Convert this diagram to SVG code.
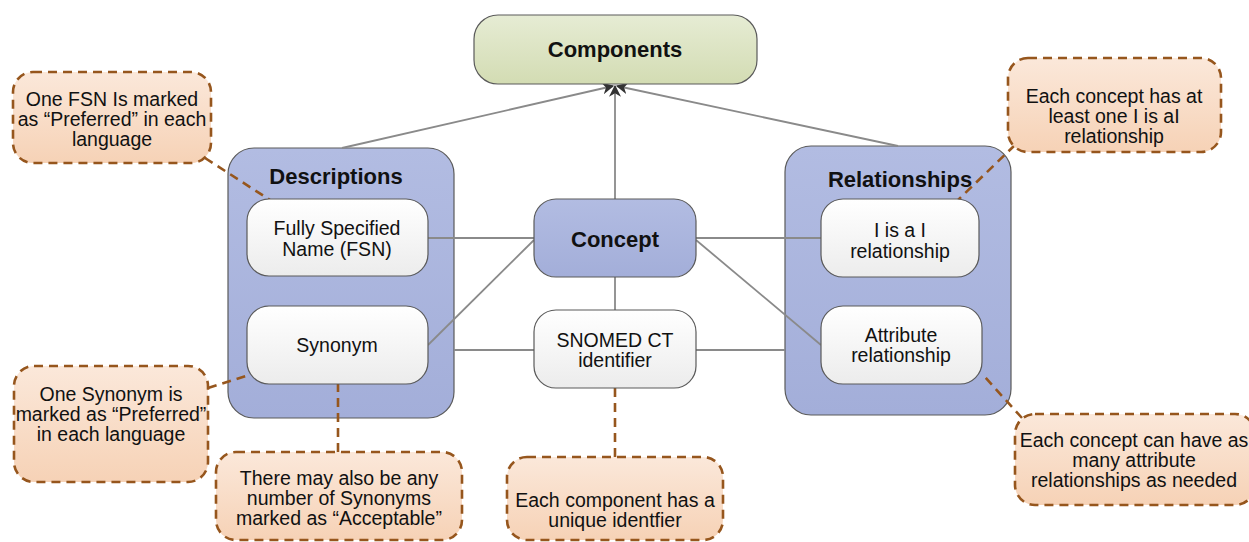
<svg xmlns="http://www.w3.org/2000/svg" width="1249" height="542" viewBox="0 0 1249 542">
<defs>
<linearGradient id="gGreen" x1="0" y1="0" x2="0" y2="1"><stop offset="0" stop-color="#e6ecd4"/><stop offset="1" stop-color="#d3dcb3"/></linearGradient>
<linearGradient id="gBlue" x1="0" y1="0" x2="0" y2="1"><stop offset="0" stop-color="#b2bce2"/><stop offset="1" stop-color="#a3aed9"/></linearGradient>
<linearGradient id="gWhite" x1="0" y1="0" x2="0" y2="1"><stop offset="0" stop-color="#ffffff"/><stop offset="1" stop-color="#ececec"/></linearGradient>
<linearGradient id="gPeach" x1="0" y1="0" x2="0" y2="1"><stop offset="0" stop-color="#fbe8da"/><stop offset="1" stop-color="#f6d2b6"/></linearGradient>
<marker id="arr" viewBox="0 0 10 10" refX="9" refY="5" markerWidth="12" markerHeight="12" orient="auto" markerUnits="userSpaceOnUse"><path d="M0,0 L10,5 L0,10 L3,5 Z" fill="#333"/></marker>
</defs>
<style>
.cont{fill:url(#gBlue);stroke:#5a5a5a;stroke-width:1.2}
.node{fill:url(#gWhite);stroke:#5a5a5a;stroke-width:1.2}
.blue{fill:url(#gBlue);stroke:#5a5a5a;stroke-width:1.2}
.green{fill:url(#gGreen);stroke:#5a5a5a;stroke-width:1.2}
.call{fill:url(#gPeach);stroke:#96561d;stroke-width:2.6;stroke-dasharray:9,6}
.tail{fill:none;stroke:#96561d;stroke-width:2.6;stroke-dasharray:9,6}
.conn line{stroke:#8a8a8a;stroke-width:1.8}
text{font-family:"Liberation Sans",Arial,Helvetica,sans-serif;fill:#111;text-anchor:middle}
.b{font-weight:bold;font-size:22px}
.n{font-size:19.5px}
.c{font-size:19.5px}
</style>
<g id="descriptions"><rect class="cont" x="228" y="148" width="226" height="270" rx="26"/><text class="b" x="336" y="184">Descriptions</text></g>
<g id="relationships"><rect class="cont" x="785" y="146" width="226" height="269" rx="26"/><text class="b" x="900" y="187">Relationships</text></g>
<g id="callout-tails">
<line class="tail" x1="205" y1="158" x2="270" y2="200"/>
<line class="tail" x1="1015" y1="145" x2="958" y2="200"/>
<line class="tail" x1="208" y1="388" x2="252" y2="374"/>
<line class="tail" x1="338" y1="452" x2="338" y2="384"/>
<line class="tail" x1="615" y1="457" x2="615" y2="388"/>
<line class="tail" x1="1022" y1="418" x2="984" y2="376"/>
</g>
<g class="conn" id="connectors">
<line x1="342" y1="148" x2="613" y2="86" marker-end="url(#arr)"/>
<line x1="615" y1="199" x2="615" y2="86" marker-end="url(#arr)"/>
<line x1="898" y1="146" x2="617" y2="86" marker-end="url(#arr)"/>
<line x1="428" y1="238" x2="534" y2="238"/>
<line x1="428" y1="345" x2="534" y2="240"/>
<line x1="454" y1="350" x2="534" y2="350"/>
<line x1="615" y1="277" x2="615" y2="310"/>
<line x1="696" y1="238" x2="821" y2="238"/>
<line x1="696" y1="240" x2="821" y2="345"/>
<line x1="696" y1="350" x2="785" y2="350"/>
</g>
<g id="components"><rect class="green" x="474" y="15" width="283" height="69" rx="24"/><text class="b" x="615" y="57">Components</text></g>
<g id="fsn"><rect class="node" x="247" y="199" width="181" height="77" rx="22"/><text class="n" x="337" y="235">Fully Specified</text><text class="n" x="337" y="256">Name (FSN)</text></g>
<g id="synonym"><rect class="node" x="247" y="306" width="181" height="78" rx="22"/><text class="n" x="337" y="352">Synonym</text></g>
<g id="isa"><rect class="node" x="821" y="199" width="158" height="78" rx="22"/><text class="n" x="900" y="237">I is a I</text><text class="n" x="900" y="258">relationship</text></g>
<g id="attribute"><rect class="node" x="821" y="306" width="161" height="78" rx="22"/><text class="n" x="901" y="342">Attribute</text><text class="n" x="901" y="362">relationship</text></g>
<g id="concept"><rect class="blue" x="534" y="199" width="162" height="78" rx="22"/><text class="b" x="615" y="247">Concept</text></g>
<g id="snomed"><rect class="node" x="534" y="310" width="162" height="78" rx="22"/><text class="n" x="615" y="347">SNOMED CT</text><text class="n" x="615" y="367">identifier</text></g>
<g id="note-fsn"><rect class="call" x="13" y="72" width="198" height="91" rx="20"/><text class="c" x="112" y="106">One FSN Is marked</text><text class="c" x="112" y="126">as “Preferred” in each</text><text class="c" x="112" y="146">language</text></g>
<g id="note-isa"><rect class="call" x="1008" y="58" width="213" height="94" rx="20"/><text class="c" x="1114" y="103">Each concept has at</text><text class="c" x="1114" y="123">least one I is aI</text><text class="c" x="1114" y="143">relationship</text></g>
<g id="note-synonym"><rect class="call" x="14" y="366" width="194" height="116" rx="20"/><text class="c" x="111" y="401">One Synonym is</text><text class="c" x="111" y="421">marked as “Preferred”</text><text class="c" x="111" y="441">in each language</text></g>
<g id="note-acceptable"><rect class="call" x="216" y="452" width="246" height="88" rx="20"/><text class="c" x="339" y="485">There may also be any</text><text class="c" x="339" y="505">number of Synonyms</text><text class="c" x="339" y="525">marked as “Acceptable”</text></g>
<g id="note-identifier"><rect class="call" x="507" y="457" width="216" height="83" rx="20"/><text class="c" x="615" y="507">Each component has a</text><text class="c" x="615" y="527">unique identfier</text></g>
<g id="note-attribute"><rect class="call" x="1015" y="414" width="240" height="91" rx="20"/><text class="c" x="1134" y="447">Each concept can have as</text><text class="c" x="1134" y="467">many attribute</text><text class="c" x="1134" y="487">relationships as needed</text></g>
</svg>
